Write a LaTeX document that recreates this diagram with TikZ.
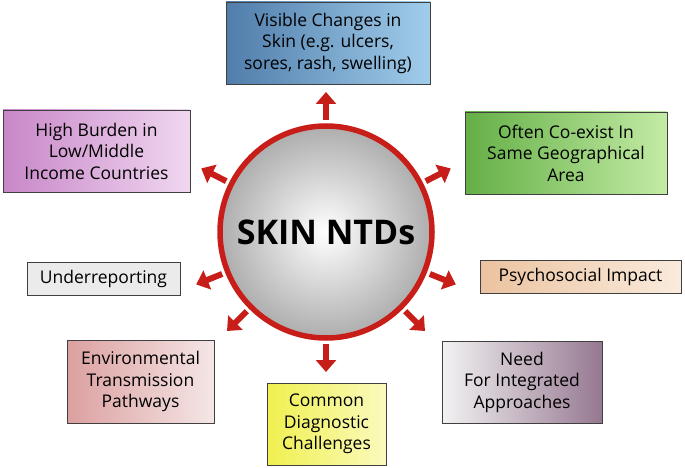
\documentclass[tikz,border=0pt]{standalone}
\usepackage{fontspec}
\setmainfont{Open Sans}
\usetikzlibrary{arrows.meta,calc}
\definecolor{arrred}{RGB}{200,30,25}
\tikzset{
 box/.style={draw=black!75, line width=0.8pt, align=center, font=\fontsize{17.5}{21.5}\selectfont, inner sep=0pt},
 arr/.style={draw=arrred, line width=6pt, -{Triangle[length=12pt,width=20pt]}},
}
\begin{document}
\begin{tikzpicture}[x=1pt,y=-1pt]
\useasboundingbox (0,0) rectangle (685,468);
\node[circle, minimum size=212pt, draw=arrred, line width=5.5pt, inner color=white, outer color=black!32, font=\fontsize{34}{40}\selectfont\bfseries] (c) at (326,232) {SKIN NTDs};
\node[box, minimum width=204pt, minimum height=82pt, left color={rgb,255:red,80;green,125;blue,170}, right color={rgb,255:red,160;green,205;blue,235}] (t) at (328,43) {Visible Changes in\\Skin (e.g. ulcers,\\sores, rash, swelling)};
\node[box, minimum width=187pt, minimum height=82pt, left color={rgb,255:red,200;green,135;blue,200}, right color={rgb,255:red,240;green,215;blue,240}] (tl) at (96.5,151) {High Burden in\\Low/Middle\\Income Countries};
\node[box, minimum width=202pt, minimum height=82pt, left color={rgb,255:red,100;green,175;blue,70}, right color={rgb,255:red,195;green,235;blue,165}] (tr) at (566,153) {Often Co-exist In\\Same Geographical\\Area};
\node[box, minimum width=153pt, minimum height=33pt, fill=black!8] (l) at (103.5,278.5) {Underreporting};
\node[box, minimum width=201pt, minimum height=33pt, left color={rgb,255:red,235;green,195;blue,160}, right color={rgb,255:red,250;green,235;blue,220}] (r) at (580.5,276.5) {Psychosocial Impact};
\node[box, minimum width=147pt, minimum height=83pt, left color={rgb,255:red,220;green,160;blue,160}, right color={rgb,255:red,245;green,230;blue,230}] (bl) at (140.5,381.5) {Environmental\\Transmission\\Pathways};
\node[box, minimum width=119pt, minimum height=82pt, left color={rgb,255:red,240;green,240;blue,80}, right color={rgb,255:red,250;green,250;blue,190}] (b) at (326.5,424) {Common\\Diagnostic\\Challenges};
\node[box, minimum width=160pt, minimum height=82pt, left color=black!5, right color={rgb,255:red,150;green,120;blue,145}] (br) at (522,382) {Need\\For Integrated\\Approaches};
\foreach \n/\a in {t/90,tl/153,tr/27,l/202,r/-22,bl/-135,b/-90,br/-45}{
  \coordinate (p\n) at ($(c.center)+({-\a}:112)$);
  \coordinate (q\n) at ($(c.center)+({-\a}:140)$);
  \draw[arr] (p\n) -- (q\n);
}
\end{tikzpicture}
\end{document}
